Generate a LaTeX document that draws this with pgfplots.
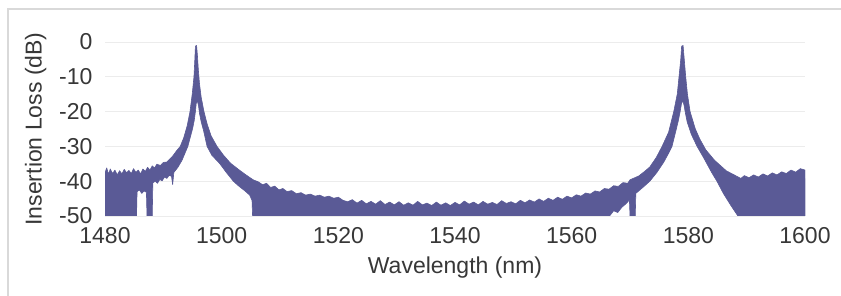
\documentclass[border=0pt]{standalone}
\usepackage{fontspec}
\setmainfont{Liberation Sans}
\usepackage{pgfplots}
\usepackage{pgfplotstable}
\pgfplotsset{compat=1.18}
\definecolor{trace}{RGB}{90,90,150}
\definecolor{txt}{RGB}{55,55,55}
\pgfplotstableread{
x y
1480 -37.5
1480.3 -36.2
1480.6 -38
1480.9 -36.5
1481.3 -37.8
1481.7 -36.8
1482.1 -38.2
1482.5 -37
1482.9 -37.9
1483.3 -36.6
1483.7 -37.6
1484.1 -36.9
1484.5 -37.8
1484.9 -36.4
1485.3 -37.5
1485.7 -36.8
1486.1 -37.9
1486.5 -36.5
1486.9 -37.2
1487.3 -36
1487.7 -36.8
1488.1 -35.6
1488.5 -36.2
1488.9 -35.1
1489.5 -35.5
1490 -34.6
1490.6 -34.5
1491.5 -33
1492.3 -31.2
1492.9 -30
1493.5 -27.5
1494.1 -24
1494.57 -20
1494.95 -15
1495.25 -10
1495.4 -5
1495.5 -1.2
1495.7 -1
1495.85 -4
1496.0 -8
1496.2 -12
1496.5 -16
1496.97 -20
1497.5 -23.5
1498.2 -27
1499.2 -30
1500.3 -32.5
1501.5 -34.8
1502.8 -36.5
1504 -38
1505.4 -39.6
1506.3 -40.2
1507 -41
1507.7 -40.6
1508.4 -41.8
1509.1 -41.4
1509.8 -42.5
1510.5 -42.1
1511.2 -43
1512 -42.7
1512.8 -43.6
1513.6 -43.3
1514.4 -44
1515.2 -43.7
1516 -44.3
1516.8 -44
1517.6 -44.6
1518.4 -44.3
1519.2 -44.9
1520 -44.6
1520.8 -45.5
1521.6 -45.9
1522.4 -45.3
1523.2 -46.3
1524 -45.5
1524.8 -46.5
1525.6 -45.8
1526.4 -46.6
1527.2 -45.6
1528 -46.7
1528.8 -46
1529.6 -46.8
1530.4 -45.9
1531.2 -46.9
1532 -46.2
1532.8 -46.9
1533.6 -45.8
1534.4 -46.8
1535.2 -46.3
1536 -47
1536.8 -46
1537.6 -46.9
1538.4 -46.2
1539.2 -47
1540 -46.1
1540.8 -46.8
1541.6 -45.7
1542.4 -46.6
1543.2 -46
1544 -46.8
1544.8 -45.8
1545.6 -46.6
1546.4 -46.1
1547.2 -46.7
1548 -45.6
1548.8 -46.4
1549.6 -45.9
1550.4 -46.5
1551.2 -45.5
1552 -46.2
1552.8 -45.4
1553.6 -46
1554.4 -45.1
1555.2 -45.8
1556 -44.9
1556.8 -45.5
1557.6 -44.6
1558.4 -45.2
1559.2 -44.3
1560 -44.8
1560.8 -43.9
1561.6 -44.3
1562.4 -43.4
1563.2 -43.7
1564 -42.8
1564.8 -43.1
1565.6 -42.1
1566.4 -42.3
1567.2 -41.3
1568 -41.5
1568.8 -40.4
1569.6 -40.6
1570 -39.6
1571.5 -38.5
1572.5 -37.2
1573.4 -35.9
1574.5 -33.2
1575.5 -30
1576.6 -26
1577.5 -20
1578.1 -15
1578.4 -10
1578.7 -5
1578.85 -1.2
1579.1 -1
1579.3 -5
1579.55 -10
1579.85 -15
1580.3 -20
1581.2 -25
1582 -28
1583 -31
1584.5 -34
1586.5 -37
1589 -39.2
1589.6 -38.4
1590.4 -39
1591.2 -38.2
1592 -38.8
1592.8 -37.9
1593.6 -38.5
1594.4 -37.6
1595.2 -38.2
1596 -37.3
1596.8 -37.8
1597.6 -36.8
1598.4 -37.4
1599.2 -36.4
1600 -36.8
1600 -50
1588.5 -50
1587.3 -47
1586 -43.5
1584.9 -40
1584 -37.5
1582.7 -33.5
1581.5 -30
1580.5 -26.5
1579.8 -23
1579.45 -20
1579.3 -18.5
1579.1 -17
1578.85 -17.5
1578.6 -20
1578.3 -22.5
1577.8 -26
1577.2 -30
1576.6 -32
1575.8 -34.5
1574.6 -37.5
1573.4 -40
1572.2 -41.8
1571 -43.5
1570.9 -50
1570 -50
1569.9 -45.4
1569.3 -46.5
1568.6 -47.5
1567.9 -49
1567.2 -48.5
1566.5 -50
1505.3 -50
1505.2 -45.5
1504.8 -44
1504 -42.8
1503 -41.5
1502 -40
1500.8 -37.5
1499.7 -35
1498.3 -32.5
1497.5 -30
1496.9 -25.5
1496.5 -23
1496.2 -20.5
1496.05 -18.5
1495.85 -17
1495.65 -17.5
1495.5 -20
1495.3 -22.5
1495.0 -25
1494.6 -27.5
1494.2 -30
1493.7 -32
1493.2 -34
1492.5 -36
1491.8 -37.5
1491.6 -41
1491.4 -38.6
1491 -38.3
1490.6 -39.2
1490.2 -38.8
1489.8 -39.9
1489.4 -39.5
1489 -40.6
1488.6 -40
1488.2 -40.5
1488.1 -50
1487.2 -50
1487.1 -43.2
1486.7 -42.8
1486.3 -43.5
1485.9 -42.5
1485.5 -43
1485.4 -50
1480 -50
}\trace
\begin{document}
\begin{tikzpicture}
\useasboundingbox (0pt,0pt) rectangle (841pt,296pt);
\draw[gray!30, line width=1.2pt] (8pt,0pt) -- (8pt,287pt) -- (841pt,287pt);
\begin{axis}[
  at={(105pt,80pt)}, anchor=south west,
  scale only axis, width=700pt, height=174pt,
  xmin=1480, xmax=1600, ymin=-50, ymax=0,
  xtick={1480,1500,1520,1540,1560,1580,1600},
  xticklabels={1480,1500,1520,1540,1560,1580,1600},
  ytick={-50,-40,-30,-20,-10,0},
  yticklabels={-50,-40,-30,-20,-10,0},
  axis line style={draw=none},
  major tick length=0pt,
  ymajorgrids, grid style={gray!15, line width=0.8pt},
  tick label style={font=\fontsize{23}{27}\selectfont, text=txt},
  xticklabel style={yshift=-8pt},
  yticklabel style={xshift=-9pt},
  label style={font=\fontsize{23}{27}\selectfont, text=txt},
  xlabel={Wavelength (nm)},
  ylabel={Insertion Loss (dB)},
  xlabel style={at={(axis description cs:0.5,0)}, anchor=north, yshift=-37pt},
  ylabel style={at={(axis description cs:0,0.5)}, anchor=south, yshift=55pt},
]
% solid cores (few vertices) under the detailed outline
\addplot[fill=trace, draw=none] coordinates {(1480,-50)(1480,-38.2)(1485.4,-38.2)(1485.4,-50)} -- cycle;
\addplot[fill=trace, draw=none] coordinates {(1505.4,-50)(1505.4,-45.5)(1510,-43.6)(1520.8,-45.5)(1521.6,-47)(1566.4,-47)(1566.4,-50)} -- cycle;
\addplot[fill=trace, draw=none] coordinates {(1588.6,-50)(1589,-39.2)(1600,-39.2)(1600,-50)} -- cycle;
\addplot[fill=trace, draw=trace, line width=0.6pt, line join=round] table[x=x,y=y] {\trace} -- cycle;
\end{axis}
\end{tikzpicture}
\end{document}
